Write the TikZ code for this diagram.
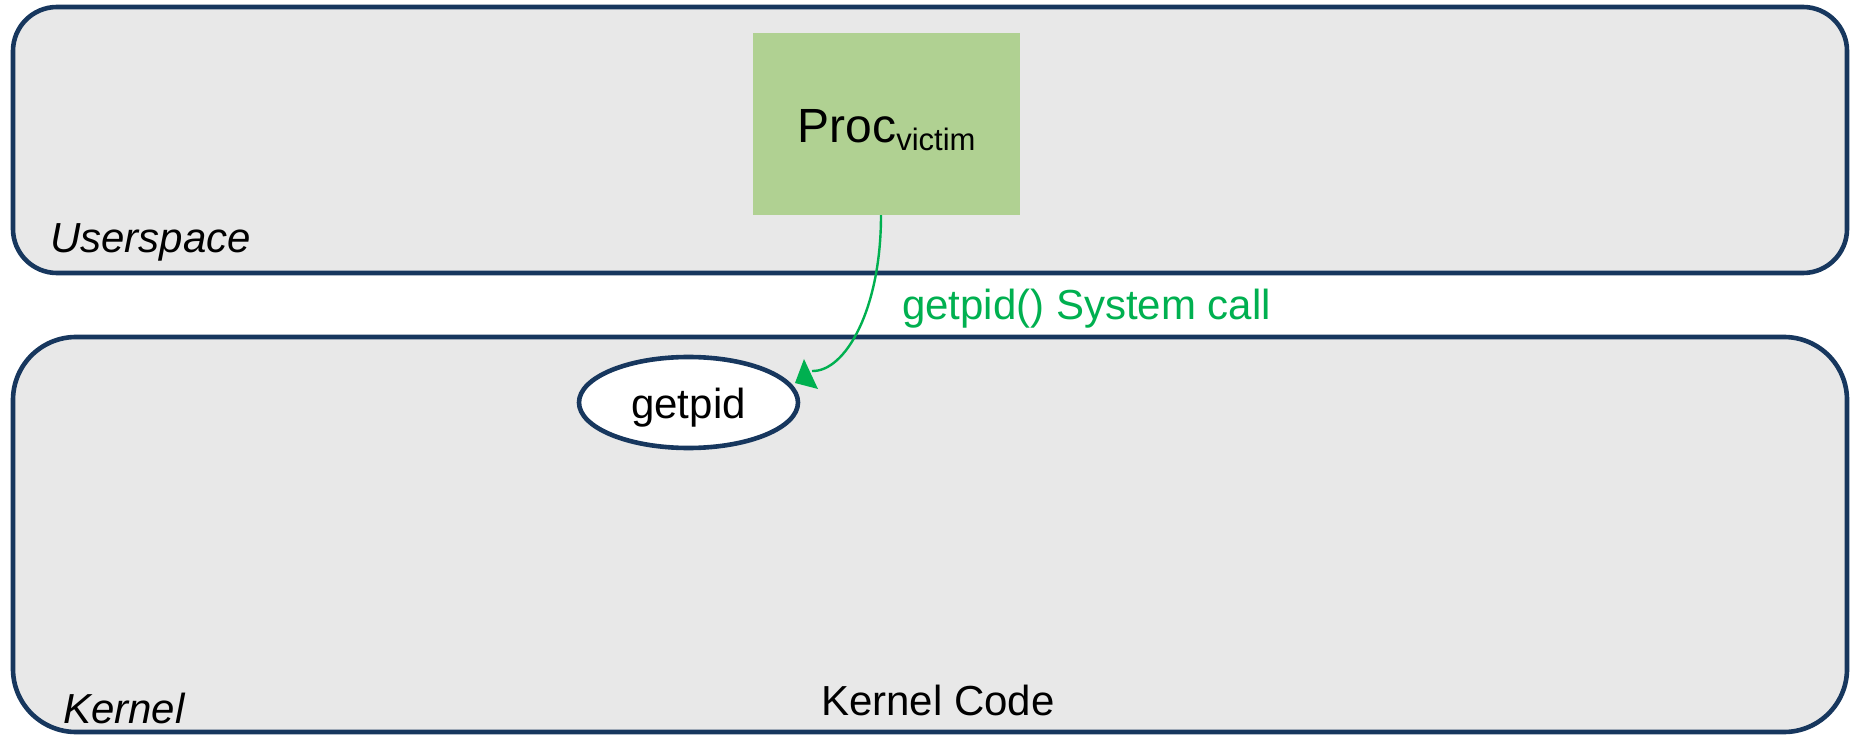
\documentclass[tikz,border=0pt]{standalone}
\usepackage{fontspec}
\setmainfont{Liberation Sans}
\usetikzlibrary{shapes.geometric}
\definecolor{laneFill}{HTML}{E8E8E8}
\definecolor{laneEdge}{HTML}{17375E}
\definecolor{procFill}{HTML}{B0D192}
\definecolor{callGreen}{HTML}{00B050}
\tikzset{
  lane/.style={draw=laneEdge, line width=4.6pt, fill=laneFill, rectangle, inner sep=0pt},
  procbox/.style={fill=procFill, rectangle, inner sep=0pt, minimum width=267pt, minimum height=182pt,
    text height=38pt, text depth=0pt},
  fnoval/.style={ellipse, draw=laneEdge, line width=4.6pt, fill=white, inner sep=0pt,
    minimum width=219pt, minimum height=91pt, text height=31pt, text depth=0pt,
    font=\fontsize{42}{50}\selectfont},
  lanelabel/.style={inner sep=0pt, font=\fontsize{42}{50}\selectfont\itshape},
  plain/.style={inner sep=0pt, font=\fontsize{42}{50}\selectfont},
  call/.style={draw=callGreen, line width=2.4pt}
}
\begin{document}
\begin{tikzpicture}[x=1pt, y=-1pt]
\useasboundingbox (0,0) rectangle (1856,735);
\fill[white] (0,0) rectangle (1856,735);

% the two protection domains
\node[lane, rounded corners=44pt, minimum width=1834pt, minimum height=266pt] (user) at (930,140) {};
\node[lane, rounded corners=63pt, minimum width=1834pt, minimum height=395pt] (kernel) at (930,534.5) {};

\node[lanelabel, anchor=base west] (userlabel) at (50,253) {Userspace};
\node[lanelabel, anchor=base west] (kernellabel) at (63,723) {Kernel};
\node[plain, anchor=base] (kcode) at (938,715) {Kernel Code};

% user process
\node[procbox] (proc) at (886.5,124)
  {\fontsize{48}{56}\selectfont Proc\raisebox{-8pt}{\fontsize{31}{37}\selectfont victim}};

% system call entry point
\node[fnoval] (getpid) at (688.5,402.5) {getpid};

% the system call transition
\coordinate (callend) at (812,371);
\coordinate (tip) at (804,359);
\draw[call] ([xshift=-5.5pt]proc.south) .. controls (881,310) and (845,372) .. (callend);
\fill[callGreen] (tip) -- ++(-9,24) -- ++(23,6) -- cycle;
\node[plain, anchor=base west, text=callGreen] (calllabel) at (902,320) {getpid() System call};
\end{tikzpicture}
\end{document}
